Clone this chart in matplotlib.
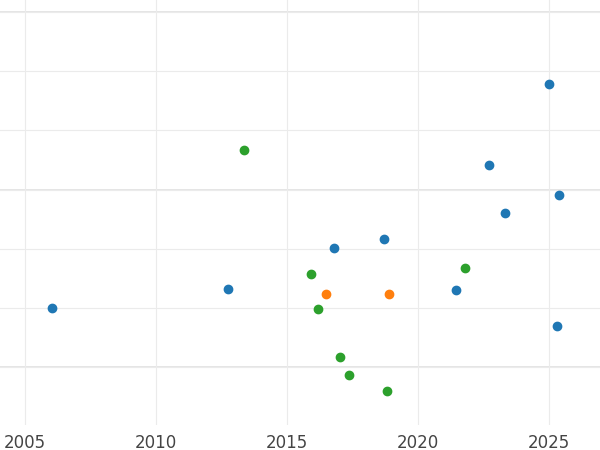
import matplotlib
matplotlib.use("Agg")
import matplotlib.pyplot as plt

blue_x = [2006.03, 2012.75, 2016.79, 2018.70, 2021.45, 2022.71, 2023.32, 2025.0, 2025.38, 2025.31]
blue_y = [1.0, 1.32, 2.02, 2.17, 1.31, 3.41, 2.61, 4.78, 2.90, 0.69]
green_x = [2013.36, 2015.92, 2016.18, 2017.02, 2017.37, 2018.82, 2021.79]
green_y = [3.66, 1.58, 0.98, 0.17, -0.14, -0.41, 1.68]
orange_x = [2016.49, 2018.89]
orange_y = [1.24, 1.24]

fig = plt.figure(figsize=(6, 4.5), dpi=100)
ax = fig.add_axes([0, 0.055, 1, 0.945])
ax.set_xlim(2004.05, 2026.95)
ax.set_ylim(-0.98, 6.2)
for s in ax.spines.values():
    s.set_visible(False)
ax.set_xticks([2005, 2010, 2015, 2020, 2025])
ax.set_yticks(range(0, 7))
ax.set_yticklabels([])
ax.tick_params(length=0, labelsize=12, colors="#444444", pad=6)
ax.tick_params(axis="y", length=0)
ax.grid(True, color="#ebebeb", linewidth=0.8)
for v in (0, 3, 6):
    ax.axhline(v, color="#e0e0e0", linewidth=1.2, zorder=0)
ax.set_axisbelow(True)
ax.scatter(blue_x, blue_y, color="#1f77b4", s=36, zorder=3)
ax.scatter(green_x, green_y, color="#2ca02c", s=36, zorder=3)
ax.scatter(orange_x, orange_y, color="#ff7f0e", s=36, zorder=3)
fig.savefig("out.png")
